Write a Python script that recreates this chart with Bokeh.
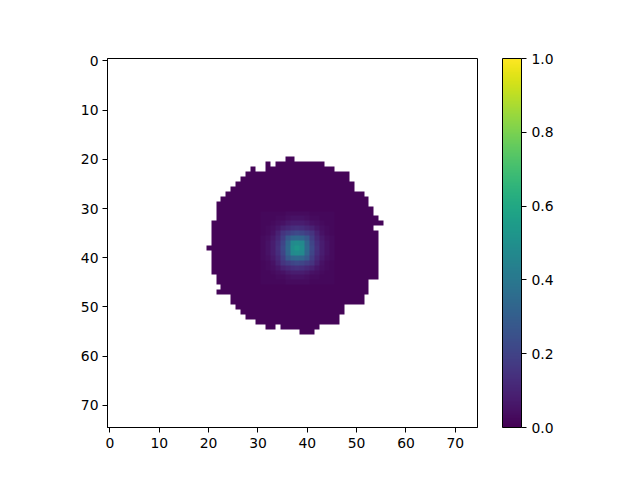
import numpy as np
from bokeh.plotting import figure
from bokeh.embed import file_html
from bokeh.resources import INLINE
from bokeh.models import LinearColorMapper, ColorBar, FixedTicker, Range1d, PrintfTickFormatter
from bokeh.palettes import Viridis256

GRID_SIZE = 75
BACKGROUND = 0.015
TICKS = [0, 10, 20, 30, 40, 50, 60, 70]
BAR_TICKS = [0.0, 0.2, 0.4, 0.6, 0.8, 1.0]

# filled column spans per image row
ROW_SPANS = {
    20: [(36, 37)], 21: [(32, 32), (34, 43)], 22: [(29, 29), (32, 45)],
    23: [(28, 48)], 24: [(27, 48)], 25: [(26, 49)], 26: [(25, 49)],
    27: [(24, 51)], 28: [(23, 52)], 29: [(22, 52)], 30: [(22, 53)],
    31: [(22, 53)], 32: [(22, 54)], 33: [(21, 55)], 34: [(21, 53)],
    35: [(21, 54)], 36: [(21, 54)], 37: [(21, 54)], 38: [(20, 54)],
    39: [(21, 54)], 40: [(21, 54)], 41: [(21, 54)], 42: [(21, 54)],
    43: [(21, 54)], 44: [(22, 54)], 45: [(22, 52)], 46: [(23, 52)],
    47: [(22, 52)], 48: [(25, 51)], 49: [(25, 51)], 50: [(26, 47)],
    51: [(27, 47)], 52: [(28, 46)], 53: [(30, 46)],
    54: [(32, 33), (35, 42)], 55: [(39, 41)],
}

# bright spot: rows 31..45, columns 31..45
SPOT_ROW0, SPOT_COL0 = 31, 31
SPOT = [
    [.02, .02, .02, .02, .02, .03, .03, .03, .03, .03, .02, .02, .02, .02, .02],
    [.02, .02, .02, .03, .03, .04, .05, .05, .05, .04, .03, .03, .02, .02, .02],
    [.02, .02, .03, .04, .05, .07, .08, .08, .08, .07, .05, .04, .03, .02, .02],
    [.02, .03, .04, .06, .09, .11, .13, .14, .13, .11, .09, .06, .04, .03, .02],
    [.02, .03, .05, .09, .15, .18, .21, .22, .21, .18, .15, .09, .05, .03, .02],
    [.03, .04, .07, .11, .18, .28, .33, .34, .33, .28, .18, .11, .07, .04, .03],
    [.03, .05, .08, .13, .21, .33, .47, .49, .47, .33, .21, .13, .08, .05, .03],
    [.03, .05, .08, .14, .22, .34, .49, .53, .49, .34, .22, .14, .08, .05, .03],
    [.03, .05, .08, .13, .21, .33, .47, .49, .47, .33, .21, .13, .08, .05, .03],
    [.03, .04, .07, .11, .18, .28, .33, .34, .33, .28, .18, .11, .07, .04, .03],
    [.02, .03, .05, .09, .15, .18, .21, .22, .21, .18, .15, .09, .05, .03, .02],
    [.02, .03, .04, .06, .09, .11, .13, .14, .13, .11, .09, .06, .04, .03, .02],
    [.02, .02, .03, .04, .05, .07, .08, .08, .08, .07, .05, .04, .03, .02, .02],
    [.02, .02, .02, .03, .03, .04, .05, .05, .05, .04, .03, .03, .02, .02, .02],
    [.02, .02, .02, .02, .02, .03, .03, .03, .03, .03, .02, .02, .02, .02, .02],
]

grid = np.full((GRID_SIZE, GRID_SIZE), np.nan)
for row, spans in ROW_SPANS.items():
    for a, b in spans:
        grid[row, a:b + 1] = BACKGROUND
for i, vals in enumerate(SPOT):
    for j, v in enumerate(vals):
        grid[SPOT_ROW0 + i, SPOT_COL0 + j] = v

# the browser smooths scaled images, so enlarge the cells to keep their edges crisp
SCALE = 12
big = np.repeat(np.repeat(grid, SCALE, axis=0), SCALE, axis=1)

mapper = LinearColorMapper(palette=Viridis256, low=0, high=1, nan_color=(0, 0, 0, 0))

p = figure(width=632, height=472, output_backend="svg", toolbar_location=None,
           x_range=Range1d(-0.5, GRID_SIZE - 0.5), y_range=Range1d(GRID_SIZE - 0.5, -0.5),
           min_border_left=107, min_border_top=58, min_border_bottom=45, min_border_right=155)
p.image(image=[big], x=-0.5, y=-0.5, dw=GRID_SIZE, dh=GRID_SIZE, color_mapper=mapper)

p.grid.visible = False
p.outline_line_color = "black"
p.outline_line_width = 1
for ax in (p.xaxis[0], p.yaxis[0]):
    ax.ticker = FixedTicker(ticks=TICKS)
    ax.minor_tick_line_color = None
    ax.major_tick_in = 0
    ax.major_tick_out = 5
    ax.major_tick_line_color = "black"
    ax.axis_line_color = "black"
    ax.major_label_text_font = "DejaVu Sans"
    ax.major_label_text_font_size = "13.9px"
    ax.major_label_text_color = "black"
    ax.major_label_standoff = 5
p.yaxis[0].major_label_orientation = "horizontal"
p.yaxis[0].major_label_standoff = 4

cb = ColorBar(color_mapper=mapper, ticker=FixedTicker(ticks=BAR_TICKS),
              formatter=PrintfTickFormatter(format="%.1f"), width=19, height=369,
              location=(25, 0), padding=0, margin=0,
              bar_line_color="black", bar_line_width=1,
              major_tick_in=0, major_tick_out=5, major_tick_line_color="black",
              minor_tick_line_color=None,
              major_label_text_font="DejaVu Sans", major_label_text_font_size="13.9px",
              major_label_text_color="black", label_standoff=5,
              background_fill_color=None, border_line_color=None)
p.add_layout(cb, "right")

open("out.html", "w").write(file_html(p, INLINE))
